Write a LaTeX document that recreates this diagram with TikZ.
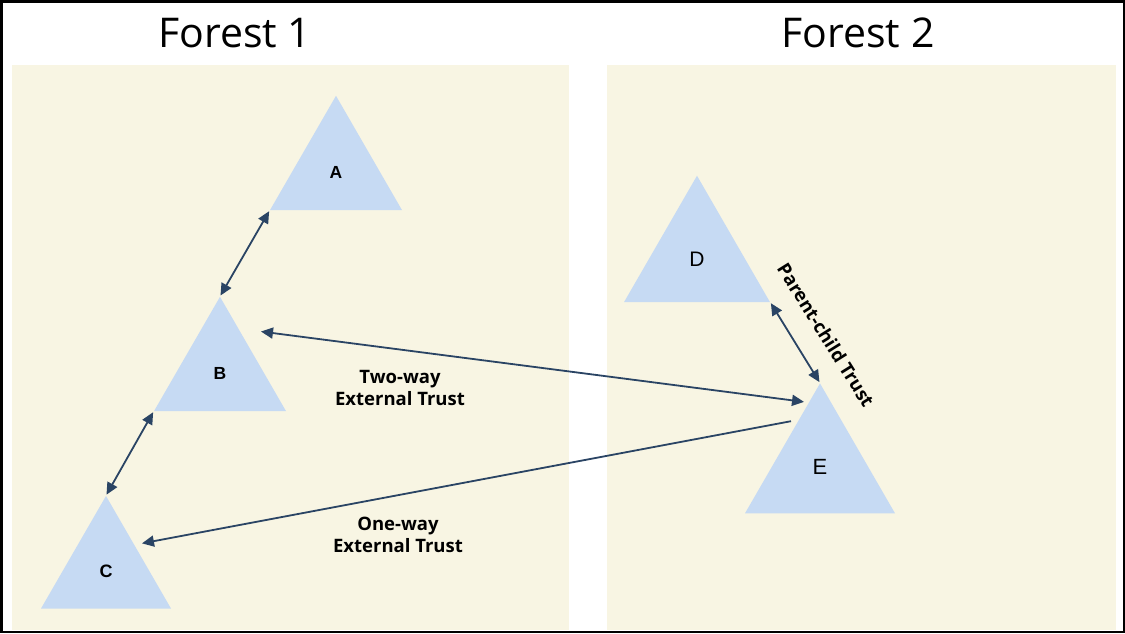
\documentclass[tikz,border=0pt]{standalone}
\usepackage{fontspec}
\setmainfont{Open Sans}
\newfontfamily\letterfont{Liberation Sans}
\usetikzlibrary{shapes.geometric,arrows.meta}
\definecolor{panel}{HTML}{F8F5E3}
\definecolor{domainblue}{HTML}{C6DAF3}
\definecolor{trustline}{HTML}{2A4464}
\tikzset{
  domaintri/.style={regular polygon, regular polygon sides=3, fill=domainblue,
    inner sep=0pt, minimum size=#1*1.1547pt},
  trust/.style={draw=trustline, line width=1.8pt,
    arrows={-Triangle[length=12pt,width=11pt]}, shorten >=1pt, shorten <=1pt},
  twoway/.style={trust, arrows={Triangle[length=12pt,width=11pt]-Triangle[length=12pt,width=11pt]}},
  trustlabel/.style={font=\bfseries\fontsize{18.5}{22}\selectfont, align=center},
  title/.style={font=\fontsize{41}{48}\selectfont}
}
\begin{document}
\begin{tikzpicture}[x=1pt,y=-1pt]
                    \useasboundingbox (0,0) rectangle (1125,633);
                    \fill[white] (0,0) rectangle (1125,633);

                    % the two forests
                    \fill[panel] (12,65) rectangle (569,630);
                    \fill[panel] (607,65) rectangle (1116,630);
                    \node[title] (forest1) at (235,33) {Forest 1};
                    \node[title] (forest2) at (858,33) {Forest 2};

                    \foreach \name/\x/\y/\side/\fs/\fw/\up in {A/336/172/132/17.5/\bfseries/0, B/220/373/132/17.5/\bfseries/0,
                                                               C/106/571/130/18/\bfseries/0, D/697/260/146/21/\mdseries/2,
                                                               E/820/470/150/22/\mdseries/6} {
                        \node[domaintri=\side] (\name) at (\x,\y)
                            {\raisebox{\up pt}{\letterfont\fw\fontsize{\fs}{\fs}\selectfont\name}};
                    }

                    % trusts inside the forests
                    \draw[twoway] (A.corner 2) -- (B.corner 1);
                    \draw[twoway] (B.corner 2) -- (C.corner 1);
                    \draw[twoway] (D.corner 3) -- (E.corner 1);

                    % trusts between the forests
                    \coordinate (bout) at ([shift={(40,35)}]B.corner 1);
                    \coordinate (ein) at ([shift={(-15,19)}]E.corner 1);
                    \coordinate (eout) at ([shift={(-28,38)}]E.corner 1);
                    \coordinate (cin) at ([shift={(35,48)}]C.corner 1);
                    \draw[twoway] (bout) -- (ein);
                    \draw[trust] (eout) -- (cin);

                    \node[trustlabel] (twolabel) at (400,388) {Two-way\\External Trust};
                    \node[trustlabel] (onelabel) at (398,535) {One-way\\External Trust};
                    \node[trustlabel, rotate=-58] (pclabel) at (826,335) {Parent-child Trust};

                    \draw[line width=2.5pt] (1.25,1.25) rectangle (1123.75,631.75);
                \end{tikzpicture}
\end{document}
